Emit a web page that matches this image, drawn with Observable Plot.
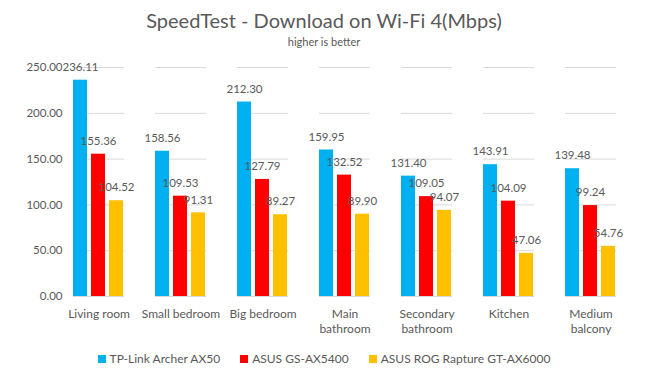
<!DOCTYPE html>
<html><head><meta charset="utf-8">
<script src="https://cdn.jsdelivr.net/npm/d3@7"></script>
<script src="https://cdn.jsdelivr.net/npm/@observablehq/plot@0.6"></script>
<style>
body{margin:0;background:#fff;font-family:Lato,"Open Sans",sans-serif;color:#595959;width:648px;}
#title{height:34px;line-height:40px;text-align:center;font-size:20px;color:#595959;}
#sub{height:16px;line-height:16px;text-align:center;font-size:11px;color:#595959;}
#legend{display:flex;justify-content:center;gap:20px;font-size:12px;color:#595959;margin-top:10px;}
#legend span.sw{display:inline-block;width:8px;height:8px;margin-right:4px;vertical-align:0px;}
</style></head><body>
<div id="title">SpeedTest - Download on Wi-Fi 4(Mbps)</div>
<div id="sub">higher is better</div>
<div id="chart"></div>
<div id="legend"></div>
<script>
const categories = ["Living room","Small bedroom","Big bedroom","Main bathroom","Secondary bathroom","Kitchen","Medium balcony"];
const categoryLabels = ["Living room","Small bedroom","Big bedroom","Main\nbathroom","Secondary\nbathroom","Kitchen","Medium\nbalcony"];
const seriesNames = ["TP-Link Archer AX50","ASUS GS-AX5400","ASUS ROG Rapture GT-AX6000"];
const seriesColors = ["#00B0F0","#FF0000","#FFC000"];
const tplink = [236.11,158.56,212.30,159.95,131.40,143.91,139.48];
const asusGS = [155.36,109.53,127.79,132.52,109.05,104.09,99.24];
const asusROG = [104.52,91.31,89.27,89.90,94.07,47.06,54.76];
const yTicks = [0,50,100,150,200,250];

const seriesValues = [tplink, asusGS, asusROG];
const data = [];
categories.forEach((c,i)=>seriesNames.forEach((s,j)=>data.push({category:c, series:s, value:seriesValues[j][i]})));
const labelMap = new Map(categories.map((c,i)=>[c,categoryLabels[i]]));

const chart = Plot.plot({
  width:648, height:291,
  marginLeft:57, marginRight:16, marginTop:17, marginBottom:45,
  style:{fontFamily:"Lato, 'Open Sans', sans-serif", fontSize:"12px", color:"#595959", background:"#fff"},
  fx:{domain:categories, paddingInner:0.38, paddingOuter:0.19, label:null, axis:null},
  x:{domain:seriesNames, paddingInner:0.2, paddingOuter:0, axis:null},
  y:{domain:[0,250], ticks:yTicks, label:null, axis:null},
  color:{domain:seriesNames, range:seriesColors},
  marks:[
    Plot.gridY(yTicks,{stroke:"#d9d9d9", strokeOpacity:1, strokeWidth:1}),
    Plot.axisY(yTicks,{tickFormat:d=>d.toFixed(2), tickSize:0, tickPadding:11, fontSize:11.5, fill:"#595959", label:null}),
    Plot.axisFx({anchor:"bottom", tickFormat:d=>labelMap.get(d), tickSize:0, tickPadding:11, lineHeight:1.25, fontSize:12, fill:"#595959", label:null}),
    Plot.barY(data,{fx:"category", x:"series", y:"value", fill:"series"}),
    Plot.text(data,{fx:"category", x:"series", y:"value", text:d=>d.value.toFixed(2), dy:-13, fill:"#595959", fontSize:11.5})
  ]
});
document.getElementById("chart").appendChild(chart);
const lg = document.getElementById("legend");
seriesNames.forEach((s,i)=>{const d=document.createElement("div");d.innerHTML=`<span class="sw" style="background:${seriesColors[i]}"></span>${s}`;lg.appendChild(d);});
</script></body></html>
